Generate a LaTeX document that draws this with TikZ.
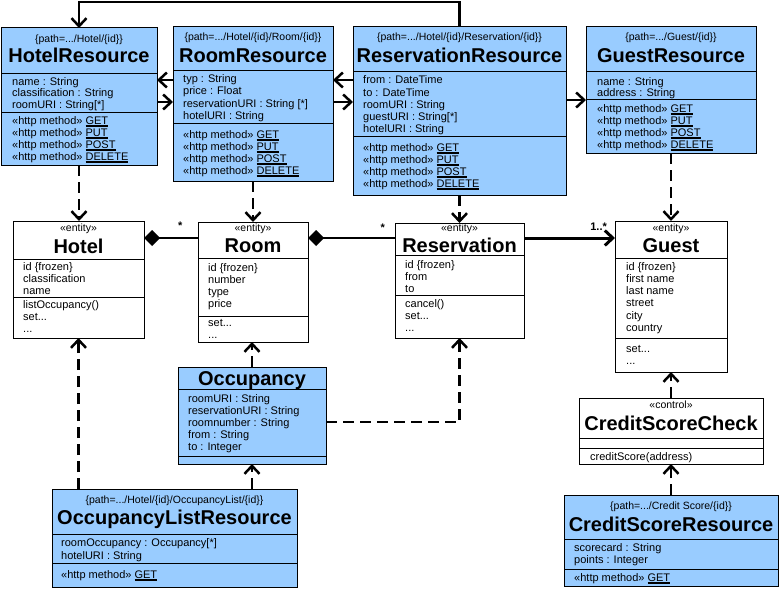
\documentclass[tikz,border=0pt]{standalone}
\usepackage{fontspec}
\setmainfont{Liberation Sans}
\usetikzlibrary{arrows.meta}
\definecolor{resblue}{RGB}{153,204,255}
\newcommand\ulm[1]{\vtop{\hbox{#1}\kern1.2pt\hrule height1.3pt}}
\newcommand\httpm[1]{«http method» \ulm{#1}}
\newcommand\tdots{...}
\begin{document}
\begin{tikzpicture}[x=1pt,y=-1pt,
box/.style={draw,line width=1pt,anchor=north west,inner sep=0pt,outer sep=0pt},res/.style={box,fill=resblue},sep/.style={line width=1pt},
txt/.style={anchor=base west,inner sep=0pt,font=\fontsize{11}{13}\selectfont},ttl/.style={anchor=base,inner sep=0pt,font=\fontsize{20}{24}\selectfont\bfseries},tag/.style={anchor=base,inner sep=0pt,font=\fontsize{10.5}{12}\selectfont},
assoc/.style={line width=2.5pt,-{Straight Barb[length=8pt,width=15pt]}},dep/.style={assoc,dash pattern=on 11pt off 6pt},comp/.style={line width=2.5pt,-{Diamond[length=16pt,width=16pt]}},mult/.style={inner sep=0pt,font=\fontsize{11}{13}\selectfont\bfseries}]
\useasboundingbox(0,0)rectangle(783,591);
% HotelResource
\node[res,minimum width=156pt,minimum height=137pt](hotelres)at(1,28){};\draw[sep](hotelres.west|-0,74)--(hotelres.east|-0,74) (hotelres.west|-0,112)--(hotelres.east|-0,112);\node[tag](hrp)at(79,43){\{path=\tdots/Hotel/\{id\}\}};\node[ttl](hrt)at(79,63){HotelResource};\foreach\t[count=\i]in{name : String,classification : String,roomURI : String[*]}\node[txt](hra\i)at(12,73+12*\i){\t};\foreach\m[count=\i]in{GET,PUT,POST,DELETE}\node[txt](hrm\i)at(12,112+12*\i){\httpm{\m}};
% RoomResource
\node[res,minimum width=160pt,minimum height=154pt](roomres)at(173,27){};\draw[sep](roomres.west|-0,71)--(roomres.east|-0,71) (roomres.west|-0,123)--(roomres.east|-0,123);\node[tag](rrp)at(253,41){\{path=\tdots/Hotel/\{id\}/Room/\{id\}\}};\node[ttl](rrt)at(253,63){RoomResource};\foreach\t[count=\i]in{typ : String,price : Float,reservationURI : String [*],hotelURI : String}\node[txt](rra\i)at(183,71+12*\i){\t};\foreach\m[count=\i]in{GET,PUT,POST,DELETE}\node[txt](rrm\i)at(183,126+12*\i){\httpm{\m}};
% ReservationResource
\node[res,minimum width=213pt,minimum height=168pt](resres)at(353,27){};\draw[sep](resres.west|-0,72)--(resres.east|-0,72) (resres.west|-0,136)--(resres.east|-0,136);\node[tag](vrp)at(459.5,41){\{path=\tdots/Hotel/\{id\}/Reservation/\{id\}\}};\node[ttl](vrt)at(459.5,63){ReservationResource};\foreach\t[count=\i]in{from : DateTime,to : DateTime,roomURI : String,guestURI : String[*],hotelURI : String}\node[txt](vra\i)at(363,72+12*\i){\t};\foreach\m[count=\i]in{GET,PUT,POST,DELETE}\node[txt](vrm\i)at(363,139+12*\i){\httpm{\m}};
% GuestResource
\node[res,minimum width=170pt,minimum height=126pt](guestres)at(586,27){};\draw[sep](guestres.west|-0,72)--(guestres.east|-0,72) (guestres.west|-0,100)--(guestres.east|-0,100);\node[tag](grp)at(671,41){\{path=\tdots/Guest/\{id\}\}};\node[ttl](grt)at(671,63){GuestResource};\foreach\t[count=\i]in{name : String,address : String}\node[txt](gra\i)at(597,73+12*\i){\t};\foreach\m[count=\i]in{GET,PUT,POST,DELETE}\node[txt](grm\i)at(597,100+12*\i){\httpm{\m}};
% Hotel
\node[box,minimum width=131pt,minimum height=117pt](hotel)at(13,221){};\draw[sep](hotel.west|-0,259)--(hotel.east|-0,259) (hotel.west|-0,297)--(hotel.east|-0,297);\node[tag](hs)at(78.5,231){«entity»};\node[ttl](ht)at(78.5,253){Hotel};\foreach\t[count=\i]in{id \{frozen\},classification,name}\node[txt](ha\i)at(23,258+12*\i){\t};\foreach\t[count=\i]in{listOccupancy(),set\tdots,\tdots}\node[txt](hm\i)at(23,296+12*\i){\t};
% Room
\node[box,minimum width=110pt,minimum height=120pt](room)at(198,222){};\draw[sep](room.west|-0,258)--(room.east|-0,258) (room.west|-0,316)--(room.east|-0,316);\node[tag](rs)at(253,231){«entity»};\node[ttl](rt)at(253,252){Room};\foreach\t[count=\i]in{id \{frozen\},number,type,price}\node[txt](ra\i)at(208,259+12*\i){\t};\foreach\t[count=\i]in{set\tdots,\tdots}\node[txt](rm\i)at(208,314+12*\i){\t};
% Reservation
\node[box,minimum width=129pt,minimum height=115pt](reserv)at(395,223){};\draw[sep](reserv.west|-0,255)--(reserv.east|-0,255) (reserv.west|-0,295)--(reserv.east|-0,295);\node[tag](vs)at(459.5,231){«entity»};\node[ttl](vt)at(459.5,252){Reservation};\foreach\t[count=\i]in{id \{frozen\},from,to}\node[txt](va\i)at(405,256+12*\i){\t};\foreach\t[count=\i]in{cancel(),set\tdots,\tdots}\node[txt](vm\i)at(405,295+12*\i){\t};
% Guest
\node[box,minimum width=112pt,minimum height=151pt](guest)at(615,221){};\draw[sep](guest.west|-0,258)--(guest.east|-0,258) (guest.west|-0,338)--(guest.east|-0,338);\node[tag](gs)at(671,231){«entity»};\node[ttl](gt)at(671,252){Guest};\foreach\t[count=\i]in{id \{frozen\},first name,last name,street,city,country}\node[txt](ga\i)at(626,258+12.2*\i){\t};\foreach\t[count=\i]in{set\tdots,\tdots}\node[txt](gm\i)at(626,340+12*\i){\t};
% Occupancy
\node[res,minimum width=148pt,minimum height=97pt](occ)at(178,367){};\draw[sep](occ.west|-0,389)--(occ.east|-0,389) (occ.west|-0,456)--(occ.east|-0,456);\node[ttl](ot)at(252,385){Occupancy};\foreach\t[count=\i]in{roomURI : String,reservationURI : String,roomnumber : String,from : String,to : Integer}\node[txt](oa\i)at(188,390+12*\i){\t};
% OccupancyListResource
\node[res,minimum width=245pt,minimum height=98pt](occlist)at(52,489){};\draw[sep](occlist.west|-0,534)--(occlist.east|-0,534) (occlist.west|-0,563)--(occlist.east|-0,563);\node[tag](olp)at(174.5,503){\{path=\tdots/Hotel/\{id\}/OccupancyList/\{id\}\}};\node[ttl](olt)at(174.5,524){OccupancyListResource};\foreach\t[count=\i]in{roomOccupancy : Occupancy[*],hotelURI : String}\node[txt](ola\i)at(61,534+12.5*\i){\t};\node[txt](olm)at(61,578){\httpm{GET}};
% CreditScoreCheck
\node[box,fill=white,minimum width=184pt,minimum height=66pt](check)at(579,398){};\draw[sep](check.west|-0,438)--(check.east|-0,438) (check.west|-0,448)--(check.east|-0,448);\node[tag](cs)at(671,408){«control»};\node[ttl](ct)at(671,430){CreditScoreCheck};\node[txt](cm)at(590,460){creditScore(address)};
% CreditScoreResource
\node[res,minimum width=214pt,minimum height=91pt](credit)at(564,495){};\draw[sep](credit.west|-0,539)--(credit.east|-0,539) (credit.west|-0,569)--(credit.east|-0,569);\node[tag](crp)at(671,509){\{path=\tdots/Credit Score/\{id\}\}};\node[ttl](crt)at(671,531){CreditScoreResource};\foreach\t[count=\i]in{scorecard : String,points : Integer}\node[txt](cra\i)at(574,539+12*\i){\t};\node[txt](crm)at(574,581){\httpm{GET}};
% links between resources
\draw[assoc](resres.north)--++(0,-25)-|(hotelres.north);
\draw[assoc](roomres.west|-0,80)--(hotelres.east|-0,80);\draw[assoc](hotelres.east|-0,102)--(roomres.west|-0,102);
\draw[assoc](resres.west|-0,80)--(roomres.east|-0,80);\draw[assoc](roomres.east|-0,102)--(resres.west|-0,102);
\draw[assoc](resres.east|-0,100)--(guestres.west|-0,100);
% dependencies
\draw[dep](hotelres.south)--(hotelres.south|-hotel.north);\draw[dep](roomres.south)--(roomres.south|-room.north);\draw[dep](resres.south)--(resres.south|-reserv.north);\draw[dep](guestres.south)--(guestres.south|-guest.north);
\draw[dep](occ.north)--(occ.north|-room.south);\draw[dep](occ.east|-0,422)-|(reserv.south);
\draw[dep](occlist.north-|hotel.south)--(hotel.south);\draw[dep](occlist.north-|occ.south)--(occ.south);
\draw[dep](check.north)--(check.north|-guest.south);\draw[dep](credit.north)--(credit.north|-check.south);
% entity associations
\draw[comp](room.west|-0,238)--node[mult,pos=.33,yshift=12pt](m1){*}(hotel.east|-0,238);
\draw[comp](reserv.west|-0,238)--node[mult,pos=.14,yshift=10pt](m2){*}(room.east|-0,238);
\draw[assoc,line width=3pt](reserv.east|-0,238)--node[mult,pos=.82,yshift=11pt](m3){1..*}(guest.west|-0,238);
\end{tikzpicture}
\end{document}
